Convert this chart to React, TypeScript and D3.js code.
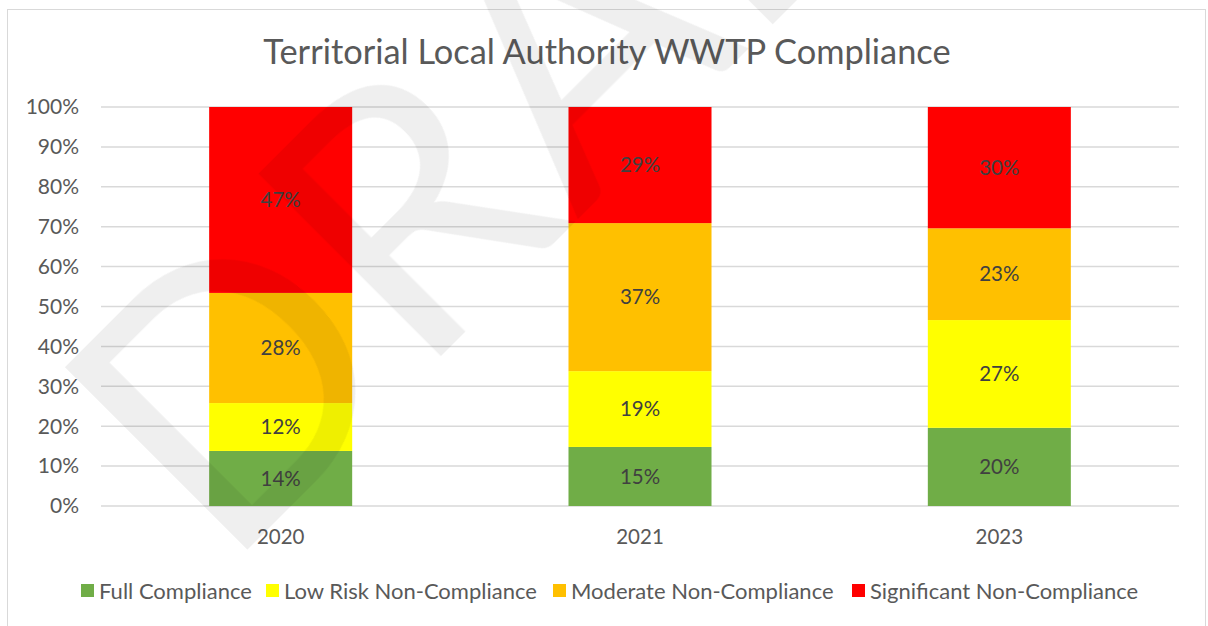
import React, { useEffect, useRef } from 'react'
import * as d3 from 'd3'

const W = 1208
const H = 626

const years: string[] = ['2020', '2021', '2023']
const seriesNames: string[] = ['Full Compliance', 'Low Risk Non-Compliance', 'Moderate Non-Compliance', 'Significant Non-Compliance']
const fullCompliance: number[] = [13.8, 14.8, 19.6]
const lowRisk: number[] = [12.0, 19.0, 27.0]
const moderate: number[] = [27.6, 37.1, 23.0]
const significant: number[] = [46.6, 29.1, 30.4]
const colors: string[] = ['#70AD47', '#FFFF00', '#FFC000', '#FF0000']
const yTicks: number[] = [0, 10, 20, 30, 40, 50, 60, 70, 80, 90, 100]

const margin = { top: 107, bottom: 120, left: 101, right: 29 }
const FONT = 'Lato, "Open Sans", sans-serif'

export default function App() {
    const ref = useRef<SVGSVGElement>(null)

    useEffect(() => {
        const svg = d3.select(ref.current)
        svg.selectAll('*').remove()

        const rows = years.map((y, i) => ({
            year: y,
            s0: fullCompliance[i],
            s1: lowRisk[i],
            s2: moderate[i],
            s3: significant[i],
        }))
        const stacked = d3.stack<any>().keys(['s0', 's1', 's2', 's3'])(rows)

        const x = d3.scaleBand().domain(years).range([margin.left, W - margin.right]).paddingInner(0.602).paddingOuter(0.301)
        const y = d3.scaleLinear().domain([0, 100]).range([H - margin.bottom, margin.top])

        // chart border
        svg.append('rect')
            .attr('x', 7.5).attr('y', 9.5)
            .attr('width', 1198).attr('height', 640)
            .attr('fill', '#fff')
            .attr('stroke', '#d9d9d9')

        // title
        svg.append('text')
            .attr('x', 607).attr('y', 64)
            .attr('text-anchor', 'middle')
            .attr('font-family', FONT)
            .attr('font-size', 34.4)
            .attr('fill', '#595959')
            .text('Territorial Local Authority WWTP Compliance')

        // gridlines
        svg.append('g').selectAll('line')
            .data(yTicks)
            .join('line')
            .attr('x1', margin.left).attr('x2', W - margin.right)
            .attr('y1', d => y(d)).attr('y2', d => y(d))
            .attr('stroke', '#d9d9d9')
            .attr('stroke-width', 1.5)

        // y axis labels
        svg.append('g').selectAll('text')
            .data(yTicks)
            .join('text')
            .attr('x', 79)
            .attr('y', d => y(d))
            .attr('dy', '0.35em')
            .attr('text-anchor', 'end')
            .attr('font-family', FONT)
            .attr('font-size', 21)
            .attr('fill', '#595959')
            .text(d => d + '%')

        // bars
        const layers = svg.append('g').selectAll('g')
            .data(stacked)
            .join('g')
            .attr('fill', (_d, i) => colors[i])
        layers.selectAll('rect')
            .data(d => d)
            .join('rect')
            .attr('x', (d: any) => x(d.data.year)!)
            .attr('width', x.bandwidth())
            .attr('y', d => y(d[1]))
            .attr('height', d => y(d[0]) - y(d[1]))

        // data labels
        const labels = svg.append('g')
        stacked.forEach(layer => {
            labels.selectAll(null)
                .data(layer)
                .join('text')
                .attr('x', (d: any) => x(d.data.year)! + x.bandwidth() / 2)
                .attr('y', d => (y(d[0]) + y(d[1])) / 2)
                .attr('dy', '0.35em')
                .attr('text-anchor', 'middle')
                .attr('font-family', FONT)
                .attr('font-size', 20.5)
                .attr('fill', '#404040')
                .text(d => Math.round(d[1] - d[0]) + '%')
        })

        // x labels
        svg.append('g').selectAll('text')
            .data(years)
            .join('text')
            .attr('x', d => x(d)! + x.bandwidth() / 2)
            .attr('y', 537)
            .attr('dy', '0.35em')
            .attr('text-anchor', 'middle')
            .attr('font-family', FONT)
            .attr('font-size', 20.5)
            .attr('fill', '#595959')
            .text(d => d)

        // legend
        const legendX = [81, 266, 553, 852]
        const legend = svg.append('g')
        seriesNames.forEach((name, i) => {
            legend.append('rect')
                .attr('x', legendX[i]).attr('y', 584)
                .attr('width', 13).attr('height', 13)
                .attr('fill', colors[i])
            legend.append('text')
                .attr('x', legendX[i] + 18).attr('y', 591)
                .attr('dy', '0.35em')
                .attr('font-family', FONT)
                .attr('font-size', 22)
                .attr('fill', '#595959')
                .text(name)
        })

        // DRAFT watermark
        svg.append('text')
            .attr('transform', 'translate(224,573) rotate(-45)')
            .attr('font-family', FONT)
            .attr('font-size', 360)
            .attr('fill', '#000')
            .attr('fill-opacity', 0.063)
            .text('DRAFT')
    }, [])

    return (
        <div style={{ position: 'fixed', left: 0, top: 0 }}>
            <svg ref={ref} width={W} height={H} style={{ display: 'block' }} />
        </div>
    )
}
